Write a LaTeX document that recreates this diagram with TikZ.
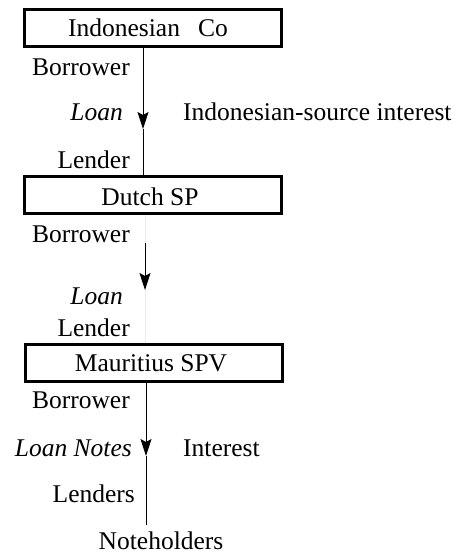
\documentclass[tikz,border=0pt]{standalone}
\usepackage{fontspec}
\setmainfont{Liberation Serif}
\usetikzlibrary{arrows.meta}
\begin{document}
\begin{tikzpicture}[x=1pt,y=-1pt,
  every node/.style={font=\fontsize{25.5}{30}\selectfont, inner sep=0pt},
  entity/.style={draw, line width=3pt, minimum width=257pt, minimum height=37pt},
  lbl/.style={anchor=base east},
  note/.style={anchor=base west},
  conn/.style={line width=0.9pt},
  tipped/.style={conn, -{Stealth[length=17pt,width=11pt,inset=3pt]}},
  faint/.style={line width=0.9pt, black!8}]
\useasboundingbox (0,0) rectangle (468,555);
% boxes
\node[entity] (b1) at (153,28) {};
\node[anchor=base] (t1) at (148,36) {Indonesian\hspace{18pt}Co};
\node[entity] (b2) at (153,195) {};
\node[anchor=base] (t2) at (150,205) {Dutch SP};
\node[entity] (b3) at (154,362.5) {};
\node[anchor=base] (t3) at (151,371) {Mauritius SPV};
% x positions of connectors
\coordinate (x1) at (143,0);
\coordinate (x2) at (145,0);
\coordinate (x3) at (146,0);
% labels, first link
\node[lbl] (bo1) at (130,75) {Borrower};
\node[lbl] (lo1) at (123,120) {\itshape Loan};
\node[note] (in1) at (183,120) {Indonesian-source interest};
\node[lbl] (le1) at (130,168) {Lender};
% labels, second link
\node[lbl] (bo2) at (130,242) {Borrower};
\node[lbl] (lo2) at (123,304) {\itshape Loan};
\node[lbl] (le2) at (130,336) {Lender};
% labels, third link
\node[lbl] (bo3) at (130,408) {Borrower};
\node[lbl] (lo3) at (132,456) {\itshape Loan Notes};
\node[note] (in3) at (183,456) {Interest};
\node[lbl] (le3) at (135,502) {Lenders};
\node[anchor=base] (nh) at (161,549) {Noteholders};
% connector 1
\coordinate (tip1) at (143,129);
\draw[tipped] (b1.south -| x1) -- (tip1);
\draw[conn] (tip1) -- (b2.north -| x1);
% connector 2
\draw[faint] (b2.south -| x2) -- (b3.north -| x2);
\coordinate (s2) at (145,243);
\coordinate (tip2) at (145,290);
\draw[tipped] (s2) -- (tip2);
% connector 3
\coordinate (tip3) at (146,456);
\coordinate (e3) at (146,525);
\draw[tipped] (b3.south -| x3) -- (tip3);
\draw[conn] (tip3) -- (e3);
\end{tikzpicture}
\end{document}
